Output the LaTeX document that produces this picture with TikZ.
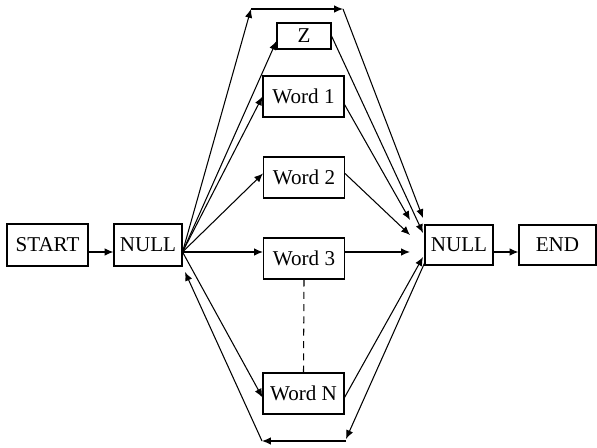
\documentclass[tikz,border=0pt]{standalone}
\usepackage{fontspec}
\setmainfont{Liberation Serif}
\usepackage{tikz}
\usetikzlibrary{calc}
\usetikzlibrary{arrows.meta}
\tikzset{
    box/.style={draw, rectangle, inner sep=0pt, minimum width=1.62cm, minimum height=0.82cm, font=\fontsize{12}{14}\selectfont}}

\begin{document}
\begin{tikzpicture}[x=0.02cm, y=-0.02cm, >={Latex[length=5pt,width=4.2pt]}, line width=0.6pt]
            \useasboundingbox (0,0) rectangle (597,448);

                    \node[box, minimum height=0.84cm] (S) at (47.5,245) {START};
                    \node[box, minimum width=1.36cm, minimum height=0.84cm] (N1) at (148,245) {NULL};
                    \node[box, minimum width=1.08cm, minimum height=0.52cm] (Z) at (304,36) {Z};
                    \node[box] (W1) at (303.5,96.5) {Word 1};
                    \node[box] (W2) at (304,177.5) {Word 2};
                    \node[box] (W3) at (304,258.5) {Word 3};
                    \node[box] (WN) at (303.5,393.5) {Word N};
                    \node[box, minimum width=1.36cm, minimum height=0.8cm] (N2) at (459,245) {NULL};
                    \node[box, minimum width=1.54cm, minimum height=0.8cm] (E) at (557.5,245) {END};

                    \coordinate (F) at ($(N1.east)+(0,7)$);
                    \coordinate (TL) at (251,9);
                    \coordinate (TR) at (343,9);
                    \coordinate (BR) at (346,439);
                    \coordinate (BL) at (262,441);
                    \coordinate (R0) at (423,218);
                    \coordinate (RZ) at (423,233);
                    \coordinate (R1) at (410,220);
                    \coordinate (R2) at (410,235);
                    \coordinate (R3) at (410,252);
                    \coordinate (RN) at (423,257);
                    \coordinate (RB) at (425,262);
                    \coordinate (LB) at (185,272);

                    \draw[->] (S.east |- F) -- (N1.west |- F);
                    \draw[->] (N2.east |- F) -- (E.west |- F);

                    \draw[->] (F) -- (TL);
                    \draw[->] (TL) -- (TR);
                    \draw[->] (TR) -- (R0);
                    \draw[->] (F) -- ($(Z.west)+(0,5)$);
                    \draw[->] (F) -- (W1.west);
                    \draw[->] (F) -- ($(W2.west)+(0,-4)$);
                    \draw[->] (F) -- (W3.west |- F);
                    \draw[->] (F) -- ($(WN.west)+(0,4)$);

                    \draw[->] (Z.east) -- (RZ);
                    \draw[->] ($(W1.east)+(0,8)$) -- (R1);
                    \draw[->] ($(W2.east)+(0,-4)$) -- (R2);
                    \draw[->] (W3.east |- R3) -- (R3);
                    \draw[->] ($(WN.east)+(0,4)$) -- (RN);

                    \draw[->] (RB) -- (BR);
                    \draw[->] (BR |- BL) -- (BL);
                    \draw[->] (BL) -- (LB);

                    \draw[dash pattern=on 4pt off 3pt] (W3.south) -- (WN.north);

\end{tikzpicture}
\end{document}
